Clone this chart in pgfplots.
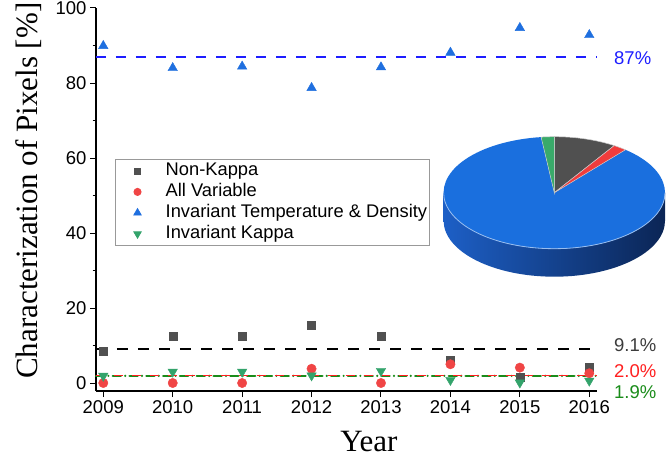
\documentclass[border=0pt]{standalone}
\usepackage{pgfplots}
\pgfplotsset{compat=1.18}
\usepackage{fontspec}
\setmainfont{Liberation Sans}
\newfontfamily\titlefont{Liberation Serif}
\definecolor{cgray}{HTML}{505050}
\definecolor{cred}{HTML}{F04545}
\definecolor{cblue}{HTML}{1F6FDF}
\definecolor{cgreen}{HTML}{33A36B}
\definecolor{lblue}{HTML}{1E1EFF}
\definecolor{lred}{HTML}{FF2020}
\definecolor{lgreen}{HTML}{1A8C1A}
\definecolor{ltext}{HTML}{3C3C3C}
\definecolor{pblue}{HTML}{1A6FDE}
\definecolor{pgray}{HTML}{505050}
\definecolor{pred}{HTML}{F03C3C}
\definecolor{pgreen}{HTML}{39AA6A}
\definecolor{pside1}{HTML}{1D5FC6}
\definecolor{pside2}{HTML}{0B2555}
\begin{document}
\begin{tikzpicture}
\useasboundingbox (-96bp,-68bp) rectangle (570bp,391bp);
\begin{axis}[
  at={(0,0)}, anchor=south west,
  scale only axis, width=500.7bp, height=383bp,
  xmin=2008.895, xmax=2016.107, ymin=-2.13, ymax=100,
  axis x line*=bottom, axis y line*=left,
  xtick={2009,2010,...,2016}, ytick={0,20,...,100},
  minor x tick num=1, minor y tick num=1,
  tick align=outside,
  major tick length=6bp, minor tick length=3.5bp,
  every tick/.style={black, line width=1bp},
  axis line style={line width=1.2bp, black},
  ticklabel style={font=\fontsize{18.5bp}{20bp}\selectfont, /pgf/number format/assume math mode=true},
  x tick label style={/pgf/number format/1000 sep={}},
  clip=false,
  legend style={at={(0.038,0.6057)}, anchor=north west, draw=black!40, line width=0.8bp, fill=white,
    inner xsep=0pt, inner ysep=1bp, font=\fontsize{18.3bp}{20bp}\selectfont, row sep=0pt,
    nodes={inner xsep=2.5bp, inner ysep=2bp, text height=13bp, text depth=4bp}},
  legend cell align=left,
  legend image code/.code={\path (0bp,0bp) (47bp,0bp); \draw[#1] plot coordinates {(21.7bp,0bp)};},
]
\addlegendimage{only marks, mark=square*, mark size=3bp, cgray}
\addlegendentry{Non-Kappa}
\addlegendimage{only marks, mark=*, mark size=3.6bp, cred}
\addlegendentry{All Variable}
\addlegendimage{only marks, mark=triangle*, mark size=4.3bp, cblue}
\addlegendentry{Invariant Temperature \& Density}
\addlegendimage{only marks, mark=triangle*, mark size=4.3bp, cgreen, mark options={rotate=180}}
\addlegendentry{Invariant Kappa}
% mean lines
\addplot[lblue, line width=1.8bp, dash pattern=on 10bp off 10bp, forget plot] coordinates {(2008.895,87) (2016.107,87)};
\addplot[black, line width=1.7bp, dash pattern=on 11bp off 10bp, forget plot] coordinates {(2008.895,9.1) (2016.107,9.1)};
\addplot[lgreen, line width=2.4bp, line cap=round, dash pattern=on 8bp off 4.4bp on 0bp off 4.4bp, forget plot] coordinates {(2008.895,1.9) (2016.107,1.9)};
\addplot[lred, line width=1.7bp, dash pattern=on 9bp off 8.8bp, dash phase=-0.5bp, forget plot] coordinates {(2008.895,2.0) (2016.107,2.0)};
% data
\addplot[only marks, mark=square*, mark size=4bp, cgray, forget plot] coordinates {
(2009,8.4) (2010,12.4) (2011,12.4) (2012,15.5) (2013,12.4) (2014,6.1) (2015,1.5) (2016,4.2)};
\addplot[only marks, mark=*, mark size=4.7bp, cred, forget plot] coordinates {
(2009,0) (2010,0) (2011,0) (2012,3.8) (2013,0) (2014,5.0) (2015,4.1) (2016,2.6)};
\addplot[only marks, mark=triangle*, mark size=5.5bp, cblue, forget plot] coordinates {
(2009,89.9) (2010,84.0) (2011,84.4) (2012,78.7) (2013,84.2) (2014,88.1) (2015,94.7) (2016,92.8)};
\addplot[only marks, mark=triangle*, mark size=5.5bp, cgreen, mark options={rotate=180}, forget plot] coordinates {
(2009,1.9) (2010,3.0) (2011,3.0) (2012,2.0) (2013,3.2) (2014,0.8) (2015,0.1) (2016,0.6)};
% labels
\node[anchor=west, text=lblue, font=\fontsize{18.5bp}{20bp}\selectfont, inner sep=0pt] at (axis cs:2016.356,86.67) {87\%};
\node[anchor=west, text=ltext, font=\fontsize{18.5bp}{20bp}\selectfont, inner sep=0pt] at (axis cs:2016.356,10.13) {9.1\%};
\node[anchor=west, text=lred, font=\fontsize{18.5bp}{20bp}\selectfont, inner sep=0pt] at (axis cs:2016.356,3.2) {2.0\%};
\node[anchor=west, text=lgreen, font=\fontsize{18.5bp}{20bp}\selectfont, inner sep=0pt] at (axis cs:2016.356,-2.31) {1.9\%};
% titles
\node[rotate=90, font=\titlefont\fontsize{31bp}{31bp}\selectfont] at ([xshift=-67bp]rel axis cs:0,0.523) {Characterization of Pixels [\%]};
\node[anchor=base, font=\titlefont\fontsize{31bp}{31bp}\selectfont] at ([yshift=-60bp]rel axis cs:0.545,0) {Year};
\end{axis}
% pie inset (shares of the four classes)
\pgfmathsetmacro\aA{90-3.6*9.1}
\pgfmathsetmacro\aB{\aA-3.6*2.0}
\pgfmathsetmacro\aC{\aB-3.6*87}
\begin{scope}[shift={(458.3bp,198.3bp)}]
\shade[left color=pside1, right color=pside2] (110.7bp,0) arc (0:-180:110.7bp and 56bp) -- (-110.7bp,-28bp) arc (180:360:110.7bp and 56bp) -- cycle;
\fill[pblue] (0,0) -- (\aB:110.7bp and 56bp) arc (\aB:\aC:110.7bp and 56bp) -- cycle;
\filldraw[pgray, draw=white!80!black, line width=0.5bp] (0,0) -- (90:110.7bp and 56bp) arc (90:\aA:110.7bp and 56bp) -- cycle;
\filldraw[pred, draw=white!80!black, line width=0.5bp] (0,0) -- (\aA:110.7bp and 56bp) arc (\aA:\aB:110.7bp and 56bp) -- cycle;
\filldraw[pgreen, draw=white!80!black, line width=0.5bp] (0,0) -- (\aC:110.7bp and 56bp) arc (\aC:-270:110.7bp and 56bp) -- cycle;
\draw[white!55!pblue, line width=0.8bp] (110.7bp,0) arc (0:-180:110.7bp and 56bp);
\end{scope}
\end{tikzpicture}
\end{document}
